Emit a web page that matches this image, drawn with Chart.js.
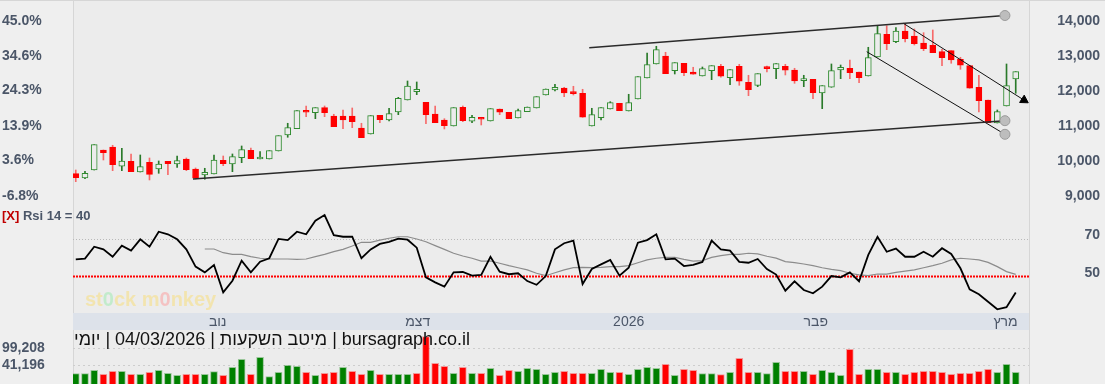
<!DOCTYPE html>
<html lang="he">
<head>
<meta charset="utf-8">
<title>bursagraph</title>
<script src="https://cdn.jsdelivr.net/npm/chart.js@4.4.1/dist/chart.umd.min.js"></script>
<style>
  body { margin: 0; background: #efefef; font-family: "Liberation Sans", Arial, sans-serif; }
  #wrap { position: relative; width: 1105px; height: 384px; overflow: hidden; }
  #plotbg { position: absolute; left: 73px; top: 0; width: 957px; height: 384px; background: #ececec;
            border-left: 1px solid #d6d6d6; border-right: 1px solid #d6d6d6; box-sizing: border-box; }
  #topline { position: absolute; left: 0; top: 0; width: 1105px; height: 1px; background: #d6d6d6; }
  canvas { position: absolute; left: 0; }
  #price { top: 0; }
  #rsi { top: 205px; }
  #vol { top: 330px; }
  .lbl { position: absolute; white-space: nowrap; }
  #rsiLbl { left: 2px; top: 208px; font: bold 13px "Liberation Sans", Arial, sans-serif; color: #4b5668; }
  #rsiLbl b { color: #c00000; }
  #mark { left: 85px; top: 288px; font: bold 20px "Liberation Sans", Arial, sans-serif; color: rgba(244, 226, 160, 0.8); }
  #mark .g { color: rgba(190, 235, 200, 0.9); }
  #mark .r { color: rgba(245, 190, 190, 0.9); }
  #caption { left: 74px; top: 329px; font: 18px "Liberation Sans", Arial, sans-serif; color: #111; direction: rtl; z-index: 2; }
</style>
</head>
<body>
<div id="wrap">
  <div id="plotbg"></div>
  <div id="topline"></div>
  <canvas id="price" width="1105" height="205"></canvas>
  <canvas id="rsi" width="1105" height="125"></canvas>
  <canvas id="vol" width="1105" height="54"></canvas>
  <div class="lbl" id="rsiLbl"><b>[X]</b> Rsi 14 = 40</div>
  <div class="lbl" id="mark">st<span class="g">0</span>ck m<span class="r">0</span>nkey</div>
  <div class="lbl" id="caption">bursagraph.co.il | מיטב השקעות | 04/03/2026 | יומי</div>
</div>
<script>
// נרות יומיים
const opens = [9630, 9506, 9734, 10306, 10391, 9840, 9983, 9677, 9954, 9763, 9983, 9906, 10049, 9763, 9591, 9620, 10011, 9906, 10086, 10297,
  10049, 10049, 10277, 10734, 10915, 11420, 11371, 11514, 11277, 11277, 11277, 10934, 10763, 11297, 11163, 11391, 11734, 11971, 11669, 11334,
  11163, 10992, 11526, 11126, 11220, 11134, 11477, 11383, 11220, 11400, 11506, 11877, 12020, 12077, 11954, 11926, 10992, 11229, 11477, 11640,
  11420, 11763, 12363, 12763, 12991, 12572, 12783, 12534, 12420, 12572, 12697, 12372, 12697, 12240, 12154, 12677, 12629, 12697, 12592, 12286,
  12326, 11934, 12097, 12592, 12640, 12534, 12420, 12963, 13611, 13400, 13706, 13563, 13363, 13297, 13114, 13143, 12897, 12714, 12097, 11734,
  11077, 11563, 12334];
const highs = [9734, 9697, 10457, 10306, 10440, 10354, 10192, 10163, 10077, 9992, 9983, 10134, 10077, 9792, 9783, 10163, 10134, 10192, 10420, 10363,
  10257, 10286, 10714, 11069, 11429, 11563, 11514, 11563, 11326, 11449, 11506, 11069, 11286, 11297, 11497, 11811, 12277, 12249, 11669, 11563,
  11200, 11514, 11563, 11297, 11240, 11486, 11477, 11383, 11477, 11534, 11829, 12049, 12183, 12097, 12126, 12040, 11497, 11514, 11686, 11640,
  11897, 12400, 13077, 13269, 13097, 12800, 12783, 12669, 12677, 12714, 12754, 12600, 12754, 12440, 12486, 12706, 12772, 12754, 12640, 12440,
  12326, 12143, 12763, 12734, 12877, 12534, 13240, 13857, 13857, 13800, 13897, 13763, 13657, 13734, 13183, 13143, 12954, 12714, 12440, 11734,
  11449, 12763, 12543];
const lows = [9400, 9486, 9734, 10020, 9714, 9714, 9686, 9677, 9449, 9640, 9600, 9811, 9714, 9477, 9469, 9620, 9857, 9686, 9943, 10057,
  10049, 10049, 10277, 10669, 10915, 11257, 11200, 11257, 10972, 10915, 10943, 10657, 10763, 11086, 11134, 11314, 11734, 11886, 11057, 11086,
  10906, 10992, 11114, 11086, 11020, 11134, 11314, 11200, 11220, 11400, 11506, 11877, 11991, 11829, 11877, 11240, 10992, 11163, 11477, 11429,
  11420, 11763, 12363, 12763, 12486, 12477, 12429, 12469, 12420, 12314, 12383, 12172, 12154, 11857, 12114, 12534, 12343, 12449, 12211, 12114,
  11772, 11486, 12097, 12343, 12343, 12229, 12420, 12963, 13172, 13371, 13391, 13306, 13143, 13086, 12714, 12783, 12611, 12069, 11392, 11086,
  11077, 11563, 11926];
const closes = [9514, 9640, 10457, 10229, 9886, 9992, 9686, 9829, 9611, 9906, 9914, 10000, 9743, 9497, 9669, 10020, 9914, 10114, 10314, 10057,
  10086, 10286, 10714, 10943, 11429, 11383, 11514, 11371, 10972, 11163, 11114, 10657, 11286, 11171, 11343, 11783, 12134, 12040, 11314, 11086,
  11000, 11514, 11143, 11240, 11183, 11486, 11383, 11200, 11429, 11534, 11829, 12049, 12097, 11934, 11914, 11240, 11314, 11514, 11657, 11429,
  11657, 12400, 12743, 13172, 12486, 12800, 12514, 12469, 12629, 12714, 12412, 12600, 12269, 12029, 12486, 12629, 12772, 12583, 12277, 12343,
  11943, 12143, 12572, 12669, 12514, 12372, 12943, 13629, 13343, 13706, 13486, 13343, 13200, 13086, 12943, 12877, 12726, 12069, 11714, 11086,
  11400, 12143, 12543];
const volumes = [12200, 12200, 23400, 9900, 20000, 20000, 9900, 9900, 16600, 23400, 13300, 6600, 9900, 9900, 9900, 18900, 6600, 33400, 60200, 9900,
  67000, 2100, 16600, 40100, 36800, 16600, 6600, 13300, 16600, 33400, 20000, 9900, 23400, 9900, 9900, 9900, 9900, 13300, 136200, 46800,
  36800, 13300, 33400, 13300, 13300, 30100, 6600, 23400, 20000, 30100, 26700, 9900, 16600, 20000, 13300, 13300, 13300, 26700, 16600, 16600,
  9900, 26700, 33400, 30100, 43500, 6600, 26700, 23400, 12800, 12200, 8800, 16600, 63600, 16600, 16600, 12200, 50200, 20000, 20000, 20000,
  9900, 23400, 16600, 6600, 93800, 9900, 26700, 26700, 16600, 16600, 9900, 16600, 20000, 20000, 16600, 9900, 13300, 13300, 20000, 26700,
  16600, 43500, 16600];
const rsi = [58.8, 59.2, 65.6, 64.2, 60.2, 66.2, 63.5, 69.6, 65.6, 73.7, 72.3, 69.6, 64.2, 54.9, 51.8, 55.8, 41.0, 47.3, 58.1, 51.8,
  57.5, 59.4, 69.8, 69.2, 73.7, 72.3, 79.6, 82.7, 71.8, 71.0, 71.0, 59.4, 64.2, 67.1, 68.2, 70.0, 69.4, 65.1, 49.1, 46.4,
  44.1, 51.8, 52.0, 50.0, 50.4, 60.2, 52.2, 50.8, 51.3, 47.1, 45.1, 49.8, 64.2, 67.5, 68.9, 45.5, 53.6, 56.1, 58.5, 50.0,
  54.3, 67.8, 69.2, 72.3, 58.8, 59.2, 55.2, 55.8, 57.4, 68.9, 64.2, 63.5, 57.5, 57.0, 59.0, 53.6, 50.6, 41.9, 47.0, 42.3,
  40.5, 44.1, 49.8, 49.1, 51.8, 47.0, 61.2, 71.0, 62.9, 64.6, 60.2, 60.2, 62.9, 60.2, 64.8, 61.7, 54.0, 42.7, 40.0, 36.0,
  31.9, 33.0, 41.0];
const rsiAvg = [null, null, null, null, null, null, null, null, null, null, null, null, null, null, 64.4, 64.4, 62.4, 61.5, 61.5, 60.3,
  59.4, 59.0, 59.0, 59.0, 58.8, 59.0, 60.3, 61.5, 63.0, 64.2, 66.0, 68.0, 68.0, 69.2, 70.2, 71.0, 71.0, 69.8, 68.3, 66.2,
  64.2, 62.1, 60.6, 59.4, 57.9, 57.9, 56.7, 55.4, 54.3, 53.1, 51.3, 50.0, 51.6, 53.1, 54.3, 54.5, 54.3, 54.5, 54.9, 54.9,
  55.4, 57.0, 58.5, 59.4, 59.9, 59.9, 58.8, 57.9, 58.1, 59.9, 60.8, 61.5, 61.5, 62.1, 61.8, 60.5, 59.5, 57.6, 57.0, 56.3,
  55.4, 54.3, 53.4, 52.7, 51.3, 50.4, 50.0, 50.9, 50.9, 51.8, 52.5, 53.1, 54.3, 55.4, 56.7, 58.5, 59.4, 59.0, 58.5, 57.2,
  54.9, 52.2, 50.7];

const priceTicks = [14000, 13000, 12000, 11000, 10000, 9000];
const pctTicks = [45.0, 34.6, 24.3, 13.9, 3.6, -6.8];
const rsiTicks = [70, 50];
const volTicks = [99208, 41196];
const monthTicks = [15.4, 37.1, 60.0, 80.3, 100.9];
const monthLabels = ['נוב', 'דצמ', '2026', 'פבר', 'מרץ'];

// קווי מגמה (אינדקס נר, מחיר)
const channelLow = [[12.72, 9477], [100.83, 11143]];
const channelHigh = [[55.72, 13229], [100.83, 14148]];
const downHigh = [[89.8, 13926], [102.9, 11730]];
const downLow = [[85.83, 13114], [100.83, 10754]];

const TICK_COLOR = '#4b5668';
const PLOT_BG = '#ececec';
const GREEN = '#2e8b2e';
const GREEN_WICK = '#2a7a2a';
const RED = '#ff0000';
const RED_WICK = 'rgba(255, 0, 0, 0.55)';
const FONT = '"Liberation Sans", Arial, sans-serif';
const tickFont = { family: FONT, size: 14, weight: 'bold' };

const xMin = -0.3, xMax = 103.44;
const priceMin = 8734, priceMax = 14591;
const basePrice = 14000 / 1.45;
const toPct = p => (p / basePrice - 1) * 100;
const rsiMin = 29.9, rsiMax = 88.1;
const volMin = -22470, volMax = 158600;

const idx = closes.map((c, i) => i);
const isUp = i => closes[i] >= opens[i];
const volUp = i => i === 0 || closes[i] >= closes[i - 1];

const setTicks = list => axis => { axis.ticks = list.map(v => ({ value: v })); };
// רוחב קבוע לציר וללא ריפוד של תוויות בקצוות
const fixWidth = w => axis => { axis.width = w; axis.paddingTop = 0; axis.paddingBottom = 0; };

const levelLines = {
  id: 'levelLines',
  beforeDatasetsDraw(chart, args, opts) {
    const { ctx, chartArea } = chart;
    const scale = chart.scales[opts.axis];
    (opts.lines || []).forEach(l => {
      const y = Math.round(scale.getPixelForValue(l.value)) + 0.5;
      ctx.save();
      ctx.strokeStyle = l.color;
      ctx.lineWidth = l.width;
      ctx.setLineDash(l.dash);
      ctx.beginPath();
      ctx.moveTo(chartArea.left, y);
      ctx.lineTo(chartArea.right, y);
      ctx.stroke();
      ctx.restore();
    });
  }
};

const axisBand = {
  id: 'axisBand',
  beforeDraw(chart) {
    const s = chart.scales.x;
    chart.ctx.save();
    chart.ctx.fillStyle = '#dde2ea';
    chart.ctx.fillRect(s.left, s.top, s.width, s.height);
    chart.ctx.restore();
  }
};

const trendLine = (pts, color, width, end) => ({
  type: 'line',
  data: pts.map(p => ({ x: p[0], y: p[1] })),
  borderColor: color,
  borderWidth: width,
  pointRadius: ctx => (end && ctx.dataIndex === pts.length - 1) ? end.radius : 0,
  pointStyle: end ? end.style : 'circle',
  pointRotation: end ? end.rotation : 0,
  pointBackgroundColor: end ? end.fill : color,
  pointBorderColor: end ? end.stroke : color,
  pointBorderWidth: 1,
  clip: false,
  order: 0
});
const handle = { radius: 5, style: 'circle', rotation: 0, fill: '#bdbdbd', stroke: '#9a9a9a' };
const arrow = { radius: 5, style: 'triangle', rotation: 122, fill: '#000', stroke: '#000' };

new Chart(document.getElementById('price'), {
  type: 'bar',
  data: {
    datasets: [
      {
        label: 'body',
        data: idx.map(i => ({ x: i, y: [opens[i], closes[i]] })),
        backgroundColor: idx.map(i => isUp(i) ? PLOT_BG : RED),
        borderColor: idx.map(i => isUp(i) ? GREEN : RED),
        borderWidth: 1,
        borderSkipped: false,
        barThickness: 6,
        minBarLength: 2,
        grouped: false,
        order: 1
      },
      {
        label: 'wick',
        data: idx.map(i => ({ x: i, y: [lows[i], highs[i]] })),
        backgroundColor: idx.map(i => isUp(i) ? GREEN_WICK : RED_WICK),
        barThickness: 1,
        grouped: false,
        order: 2
      },
      trendLine(channelLow, '#2b2b2b', 1.5, handle),
      trendLine(channelHigh, '#2b2b2b', 1.5, handle),
      trendLine(downHigh, '#111', 1, arrow),
      trendLine(downLow, '#111', 1, handle)
    ]
  },
  options: {
    responsive: false,
    animation: false,
    layout: { autoPadding: false, padding: { left: 2, right: 5, top: 0, bottom: 0 } },
    plugins: { legend: { display: false }, tooltip: { enabled: false } },
    scales: {
      x: { type: 'linear', min: xMin, max: xMax, offset: false, display: false },
      y: {
        position: 'right', min: priceMin, max: priceMax,
        afterBuildTicks: setTicks(priceTicks), afterFit: fixWidth(71),
        grid: { display: false }, border: { display: false },
        ticks: { crossAlign: 'far', color: TICK_COLOR, font: tickFont,
                 callback: v => v.toLocaleString('en-US') }
      },
      pct: {
        position: 'left', min: toPct(priceMin), max: toPct(priceMax),
        afterBuildTicks: setTicks(pctTicks), afterFit: fixWidth(71),
        grid: { display: false }, border: { display: false },
        ticks: { crossAlign: 'far', color: TICK_COLOR, font: tickFont,
                 callback: v => v.toFixed(1) + '%' }
      }
    }
  }
});

new Chart(document.getElementById('rsi'), {
  type: 'line',
  data: {
    datasets: [
      {
        label: 'Rsi 14',
        data: idx.map(i => ({ x: i, y: rsi[i] })),
        borderColor: '#000', borderWidth: 1.8, pointRadius: 0, tension: 0
      },
      {
        label: 'avg',
        data: idx.map(i => ({ x: i, y: rsiAvg[i] })),
        borderColor: '#8c8c8c', borderWidth: 1.2, pointRadius: 0, tension: 0
      }
    ]
  },
  plugins: [levelLines, axisBand],
  options: {
    responsive: false,
    animation: false,
    layout: { autoPadding: false, padding: { left: 73, right: 5, top: 0, bottom: 0 } },
    plugins: {
      legend: { display: false }, tooltip: { enabled: false },
      levelLines: {
        axis: 'y',
        lines: [
          { value: rsiTicks[0], color: '#b9b9b9', width: 1, dash: [1, 2] },
          { value: rsiTicks[1], color: '#ff0000', width: 2, dash: [2, 1] }
        ]
      }
    },
    scales: {
      x: {
        type: 'linear', min: xMin, max: xMax, offset: false,
        afterBuildTicks: setTicks(monthTicks),
        afterFit: axis => { axis.height = 17; axis.paddingLeft = 0; axis.paddingRight = 0; },
        grid: { display: false, drawTicks: false }, border: { display: false },
        ticks: { color: TICK_COLOR, font: { family: FONT, size: 14 }, padding: 1, maxRotation: 0, autoSkip: false,
                 callback: v => monthLabels[monthTicks.indexOf(v)] }
      },
      y: {
        position: 'right', min: rsiMin, max: rsiMax,
        afterBuildTicks: setTicks(rsiTicks), afterFit: fixWidth(71),
        grid: { display: false }, border: { display: false },
        ticks: { crossAlign: 'far', color: TICK_COLOR, font: tickFont, labelOffset: -3 }
      }
    }
  }
});

new Chart(document.getElementById('vol'), {
  type: 'bar',
  data: {
    datasets: [{
      label: 'volume',
      data: idx.map(i => ({ x: i, y: volumes[i] })),
      base: volMin,
      backgroundColor: idx.map(i => volUp(i) ? '#008000' : '#ff0000'),
      borderColor: idx.map(i => volUp(i) ? 'rgba(0, 128, 0, 0.35)' : 'rgba(255, 0, 0, 0.35)'),
      borderWidth: 1,
      barThickness: 7,
      grouped: false
    }]
  },
  plugins: [levelLines],
  options: {
    responsive: false,
    animation: false,
    layout: { autoPadding: false, padding: { left: 2, right: 76, top: 0, bottom: 0 } },
    plugins: {
      legend: { display: false }, tooltip: { enabled: false },
      levelLines: {
        axis: 'y',
        lines: volTicks.map(v => ({ value: v, color: '#cdcdcd', width: 1, dash: [2, 3] }))
      }
    },
    scales: {
      x: { type: 'linear', min: xMin, max: xMax, offset: false, display: false },
      y: {
        position: 'left', min: volMin, max: volMax,
        afterBuildTicks: setTicks(volTicks), afterFit: fixWidth(71),
        grid: { display: false }, border: { display: false },
        ticks: { crossAlign: 'far', color: TICK_COLOR, font: tickFont,
                 callback: v => v.toLocaleString('en-US') }
      }
    }
  }
});
</script>
</body>
</html>
